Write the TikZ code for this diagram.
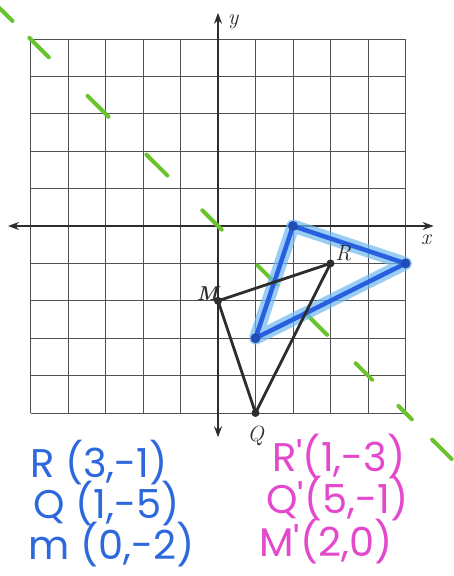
\documentclass[tikz,border=0pt]{standalone}
\usepackage{fontspec}
\newfontfamily\hand{Poppins}
\usetikzlibrary{arrows.meta}
\definecolor{gridgray}{RGB}{80,80,80}
\definecolor{inkblack}{RGB}{45,45,45}
\definecolor{penblue}{RGB}{40,95,225}
\definecolor{hiblue}{RGB}{110,185,240}
\definecolor{textblue}{RGB}{45,105,220}
\definecolor{textpink}{RGB}{228,72,205}
\definecolor{pengreen}{RGB}{105,195,45}
\tikzset{
  gridline/.style={gridgray, line width=0.9pt},
  axisline/.style={inkblack, line width=1.5pt, {Stealth[length=11pt,width=8pt]}-{Stealth[length=11pt,width=8pt]}},
  tri/.style={inkblack, line width=2.8pt, line join=round},
  halo/.style={hiblue, line width=13pt, opacity=0.7, line join=round, line cap=round},
  imgtri/.style={penblue, line width=4.5pt, line join=round},
  dot/.style={circle, fill=inkblack, inner sep=0pt, minimum size=8pt},
  bdot/.style={circle, fill=penblue!80!black, inner sep=0pt, minimum size=10pt},
  mirror/.style={pengreen, line width=4pt, line cap=round},
  lbl/.style={font=\itshape\fontsize{22}{22}\selectfont, inkblack, inner sep=1pt},
  bluetxt/.style={font=\hand\fontsize{40}{40}\selectfont, textblue, anchor=base west, inner sep=0pt},
  pinktxt/.style={font=\hand\fontsize{40}{40}\selectfont, textpink, anchor=base west, inner sep=0pt},
}
\begin{document}
\begin{tikzpicture}[x=1pt,y=-1pt]
\useasboundingbox (0,0) rectangle (454,576);
\fill[white] (0,0) rectangle (454,576);
\begin{scope}[shift={(218,226)}, x=37.5pt, y=37.4pt]
  % grid
  \foreach \i in {-5,...,5} {
    \draw[gridline] (\i,-5) -- (\i,5);
    \draw[gridline] (-5,\i) -- (5,\i);
  }
  % axes
  \coordinate (xl) at (-5.6,0);
  \coordinate (xr) at (5.75,0);
  \coordinate (yb) at (0,-5.65);
  \coordinate (yt) at (0,5.7);
  \draw[axisline] (xl) -- (xr);
  \draw[axisline] (yb) -- (yt);
  \node[lbl] (ylab) at (0.4,5.45) {y};
  \node[lbl] (xlab) at (5.55,-0.38) {x};
  % mirror line y=-x (green dashes)
  \foreach \c/\h in {-5.7/0.22,-4.77/0.26,-3.2/0.28,-1.63/0.28,-0.16/0.26,1.31/0.26,2.61/0.3,3.89/0.22,4.99/0.18,5.97/0.26} {
    \draw[mirror] ({\c-\h},{-\c+\h}) -- ({\c+\h},{-\c-\h});
  }
  % points
  \coordinate (M) at (0,-2);
  \coordinate (R) at (3,-1);
  \coordinate (Q) at (1,-5);
  \coordinate (Mp) at (2,0);
  \coordinate (Qp) at (5,-1);
  \coordinate (Rp) at (1,-3);
  % image triangle
  \draw[halo] (Mp) -- (Qp) -- (Rp) -- cycle;
  \draw[imgtri] (Mp) -- (Qp) -- (Rp) -- cycle;
  \node[bdot] (dMp) at (Mp) {};
  \node[bdot] (dQp) at (Qp) {};
  \node[bdot] (dRp) at (Rp) {};
  % original triangle
  \draw[tri] (M) -- (R) -- (Q) -- cycle;
  \node[dot] (dM) at (M) {};
  \node[dot] (dR) at (R) {};
  \node[dot] (dQ) at (Q) {};
  \node[lbl, anchor=west] (Rl) at (3.1,-0.72) {R};
  \node[lbl, font=\bfseries\itshape\fontsize{20}{20}\selectfont, anchor=east] (Ml) at (0.04,-1.8) {M};
  \node[lbl] (Ql) at (1,-5.6) {Q};
\end{scope}
% coordinates text
\node[bluetxt] (t1) at (30,477) {R (3,-1)};
\node[bluetxt] (t2) at (33,518) {Q (1,-5)};
\node[bluetxt] (t3) at (28,559) {m (0,-2)};
\node[pinktxt] (p1) at (272,471) {R'(1,-3)};
\node[pinktxt] (p2) at (266,513) {Q'(5,-1)};
\node[pinktxt] (p3) at (259,556) {M'(2,0)};
\end{tikzpicture}
\end{document}
